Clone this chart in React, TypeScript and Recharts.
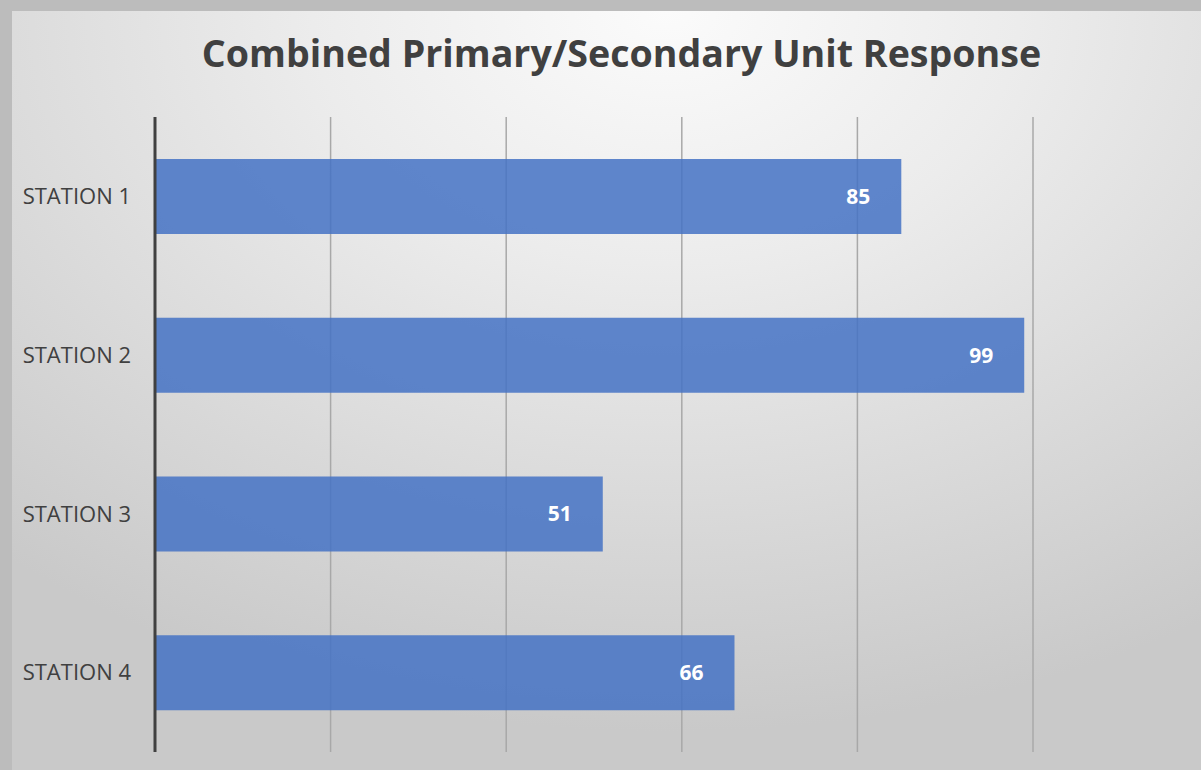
import { BarChart, Bar, XAxis, YAxis, CartesianGrid, LabelList } from "recharts";

const STATIONS = ["STATION 1", "STATION 2", "STATION 3", "STATION 4"];
const RESPONSES = [85, 99, 51, 66];
const X_TICKS = [0, 20, 40, 60, 80, 100];

const data = STATIONS.map((station, i) => ({ station, value: RESPONSES[i] }));

const FONT = "'Open Sans', 'Noto Sans', sans-serif";

export default function App() {
  return (
    <div
      style={{
        position: "absolute",
        left: 0,
        top: 0,
        width: 1201,
        height: 770,
        overflow: "hidden",
        background: "#bcbcbc",
        fontFamily: FONT,
      }}
    >
      <div
        style={{
          position: "absolute",
          left: 12,
          top: 11,
          right: 0,
          bottom: 0,
          background:
            "radial-gradient(ellipse 85% 95% at 55% 0%, #fbfbfb 0%, #ececec 35%, #d8d8d8 72%, #c9c9c9 100%)",
        }}
      />
      <div
        style={{
          position: "absolute",
          left: 0,
          top: 28,
          width: 1243,
          textAlign: "center",
          fontSize: 37.6,
          fontWeight: 700,
          color: "#404040",
          lineHeight: "50px",
        }}
      >
        Combined Primary/Secondary Unit Response
      </div>
      <div style={{ position: "absolute", left: 0, top: 0 }}>
        <BarChart
          width={1201}
          height={770}
          data={data}
          layout="vertical"
          margin={{ top: 117, right: 168, bottom: 18, left: 0 }}
          barSize={75}
        >
          <CartesianGrid horizontal={false} stroke="#a8a8a8" strokeWidth={1.5} />
          <XAxis type="number" domain={[0, 100]} ticks={X_TICKS} hide />
          <YAxis
            type="category"
            dataKey="station"
            width={155}
            tickSize={0}
            tickMargin={24}
            axisLine={{ stroke: "#404040", strokeWidth: 3 }}
            tickLine={false}
            tick={{ fill: "#404040", fontSize: 22, fontFamily: FONT }}
          />
          <Bar dataKey="value" fill="#4472C4" fillOpacity={0.85} isAnimationActive={false}>
            <LabelList
              dataKey="value"
              position="insideRight"
              offset={31}
              fill="#ffffff"
              fontSize={21}
              fontWeight={700}
              fontFamily={FONT}
            />
          </Bar>
        </BarChart>
      </div>
    </div>
  );
}
